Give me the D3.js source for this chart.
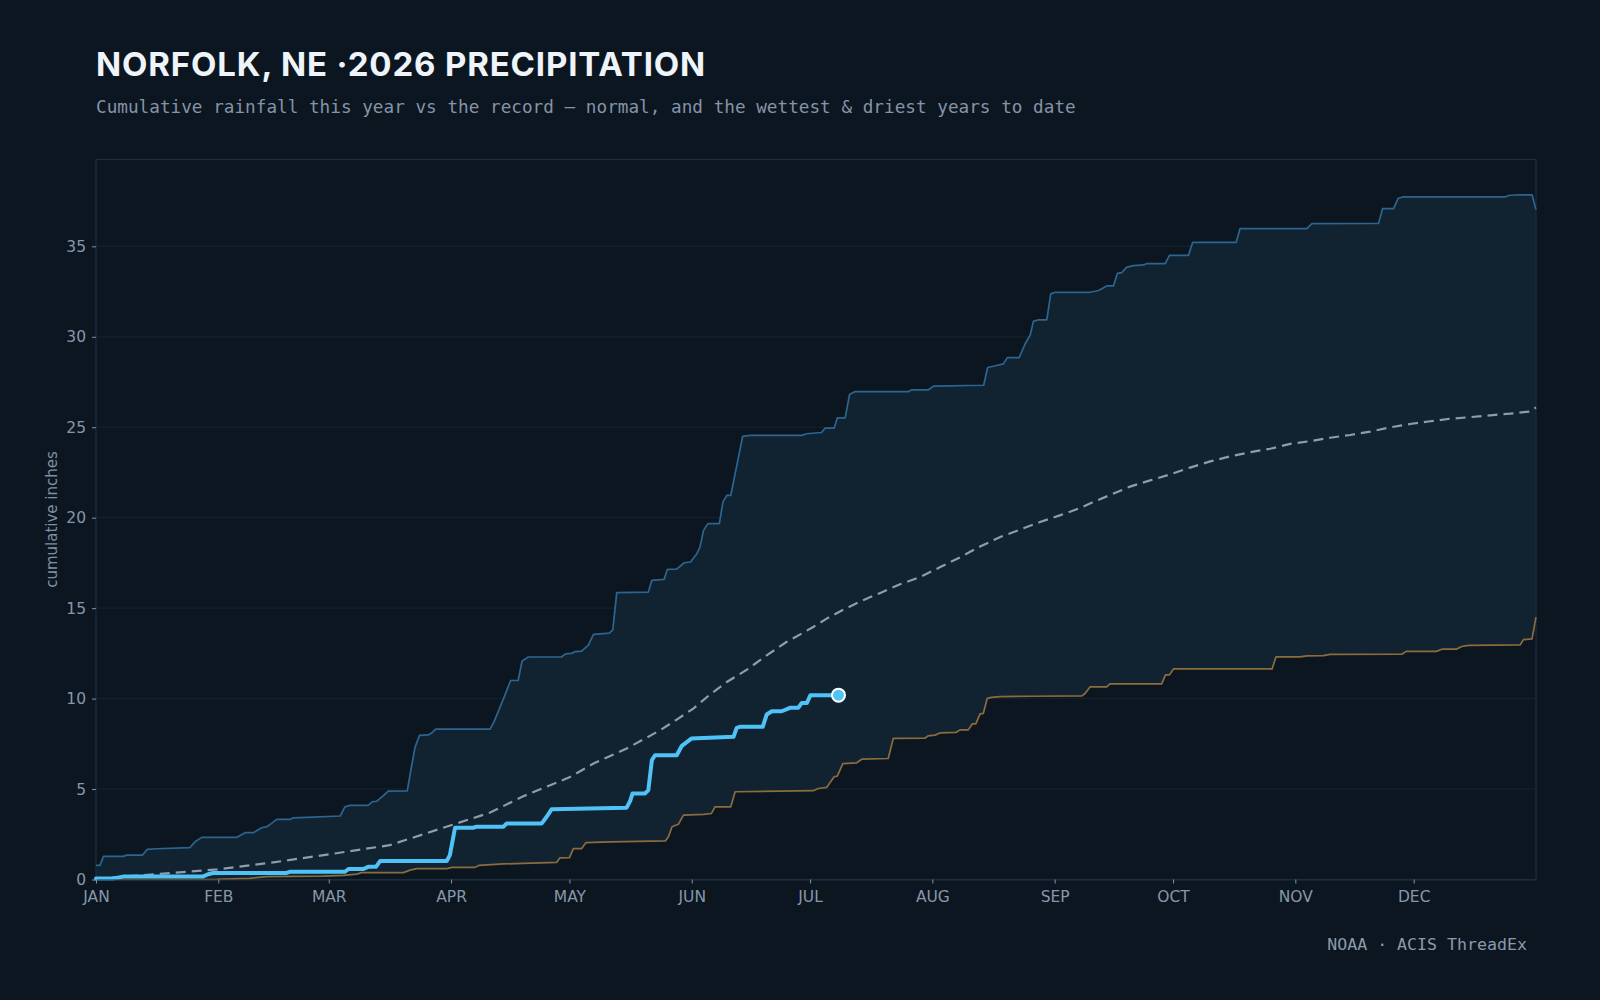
<!DOCTYPE html>
<html>
<head>
<meta charset="utf-8">
<script src="https://cdn.jsdelivr.net/npm/d3@7"></script>
<style>
  html, body { margin: 0; padding: 0; background: #0c1620; }
  svg { display: block; }
</style>
</head>
<body>
<svg id="chart" width="1600" height="1000"></svg>
<script>
// ---- DATA (day of year from Jan 1, cumulative inches) ----
const monthLabels = ["JAN","FEB","MAR","APR","MAY","JUN","JUL","AUG","SEP","OCT","NOV","DEC"];
const yTickValues = [0, 5, 10, 15, 20, 25, 30, 35];

const wettest = [[0,0.78],[1,0.78],[1.9,1.28],[6.9,1.28],[7.8,1.35],[11.8,1.35],[13,1.67],[15.4,1.70],[23.8,1.76],[25.1,2.09],[26.8,2.33],[35.7,2.33],[37.8,2.59],[39.9,2.59],[42,2.86],[43.3,2.92],[44.5,3.1],[45.8,3.32],[49.2,3.32],[50,3.41],[55.1,3.45],[61.9,3.51],[63.1,4.02],[64.4,4.1],[69,4.1],[70.1,4.3],[71.1,4.32],[72.7,4.61],[74.1,4.89],[78.9,4.9],[79.8,6.04],[80.9,7.33],[82,7.97],[84.2,7.99],[85.1,8.1],[86.1,8.31],[99.9,8.31],[100.9,8.73],[103.3,10.0],[105.1,11.0],[107,11.0],[108,12.08],[109.6,12.3],[118,12.3],[119,12.47],[120.5,12.5],[121.5,12.6],[123.1,12.62],[124.8,12.95],[126.1,13.55],[130.1,13.62],[131,13.8],[132,15.86],[140,15.89],[140.9,16.54],[144,16.59],[144.8,17.14],[147.2,17.16],[149.1,17.51],[150.7,17.55],[152.3,18.01],[153.1,18.38],[154,19.3],[155.1,19.67],[158,19.67],[158.9,20.86],[159.9,21.23],[160.9,21.23],[163.9,24.49],[165.8,24.55],[178.9,24.55],[180.1,24.64],[183.9,24.71],[184.8,24.95],[187.1,24.95],[187.9,25.52],[189.9,25.52],[191,26.81],[192.4,26.97],[206,26.97],[206.8,27.07],[211,27.07],[212.3,27.27],[225,27.32],[226,28.3],[228,28.4],[230,28.5],[231,28.85],[234,28.85],[235.5,29.6],[236.8,30.1],[237.6,30.85],[238.9,30.94],[241,30.94],[242,32.37],[243.1,32.46],[252,32.46],[254.1,32.56],[256.2,32.81],[257.9,32.81],[258.9,33.51],[260,33.55],[261.3,33.85],[263,33.93],[265.5,33.97],[266.3,34.04],[271,34.04],[272.1,34.5],[276.9,34.5],[278,35.22],[289,35.22],[290,35.98],[306.9,35.98],[308.2,36.25],[325.1,36.27],[326.1,37.08],[328.9,37.08],[330.1,37.66],[331.2,37.73],[357.2,37.73],[358,37.81],[360.5,37.85],[364,37.85],[365,37.03]];

const driest = [[0,0],[30.6,0.01],[39,0.06],[43.3,0.16],[57.6,0.19],[62.7,0.23],[66.1,0.3],[67.3,0.38],[77.9,0.38],[79.6,0.52],[81.3,0.6],[88.9,0.6],[90.2,0.67],[96.1,0.67],[97,0.78],[103.3,0.86],[108.3,0.89],[116.8,0.95],[117.6,1.2],[120,1.21],[121,1.71],[123.1,1.71],[124.2,2.04],[130.3,2.08],[144.3,2.13],[145.1,2.37],[146,2.92],[147.6,3.05],[148.9,3.56],[154,3.6],[156,3.65],[156.9,4.02],[160.9,4.02],[162,4.85],[181.8,4.91],[183.1,5.03],[185.2,5.09],[186.2,5.4],[187.1,5.68],[187.9,5.71],[189.3,6.41],[192.8,6.45],[194.1,6.65],[200.8,6.69],[202.1,7.8],[210.1,7.81],[210.9,7.94],[212.7,7.98],[214,8.11],[218,8.13],[219,8.27],[221.1,8.27],[222.1,8.6],[223,8.6],[224.1,9.16],[224.9,9.18],[225.9,10.01],[227,10.07],[229.2,10.11],[237.6,10.13],[249.9,10.15],[250.7,10.28],[252,10.65],[256.2,10.65],[257,10.81],[270.1,10.81],[271.1,11.31],[272.1,11.31],[273.1,11.64],[298.1,11.64],[299.1,12.31],[305.2,12.31],[306.9,12.36],[311.1,12.38],[312.8,12.44],[331,12.45],[332.1,12.61],[339.8,12.61],[341.1,12.73],[344.9,12.74],[346.2,12.88],[347.9,12.94],[361,12.97],[361.8,13.26],[364,13.3],[365,14.5]];

const normal = [[0,0.03],[15.4,0.3],[30.8,0.56],[45,0.95],[59,1.39],[74.5,1.9],[90,3.0],[99.9,3.7],[108.3,4.6],[120,5.65],[126.1,6.41],[134.5,7.24],[143,8.25],[147.2,8.84],[151.4,9.45],[155.6,10.22],[159.9,10.92],[165,11.6],[170,12.39],[175,13.13],[178.5,13.55],[181.8,13.96],[185.2,14.42],[189.4,14.91],[193.7,15.37],[198.8,15.84],[203.8,16.32],[208.9,16.72],[214,17.27],[219.1,17.82],[224.1,18.41],[229.2,18.93],[234.2,19.34],[239.3,19.76],[244.3,20.13],[249.4,20.53],[252.8,20.87],[257,21.25],[262.1,21.72],[267.2,22.06],[272.2,22.39],[277.3,22.77],[282.4,23.11],[287.5,23.39],[292.5,23.62],[297.6,23.81],[302.7,24.08],[307.7,24.23],[312.8,24.42],[317.9,24.57],[323,24.76],[328,24.99],[333.1,25.18],[338.2,25.33],[343.2,25.47],[348.3,25.56],[353.4,25.66],[358.4,25.75],[363.5,25.87],[365,26.1]];

const current = [[0,0.05],[4.4,0.06],[6.9,0.16],[27.2,0.17],[28.4,0.29],[29.7,0.36],[48.3,0.36],[49.2,0.43],[63.1,0.43],[64,0.58],[67.8,0.58],[69.1,0.71],[71,0.71],[72,1.02],[88.9,1.02],[89.7,1.35],[91,2.86],[95.6,2.86],[96.5,2.92],[103.3,2.92],[104.1,3.1],[113,3.1],[114.5,3.55],[115.5,3.89],[134.5,3.97],[135.4,4.35],[136,4.76],[139.2,4.76],[140,4.94],[140.9,6.6],[141.7,6.87],[147.2,6.87],[148.5,7.39],[150.9,7.79],[161.6,7.89],[162.4,8.38],[163.2,8.44],[169,8.44],[170,9.12],[171.3,9.3],[173.8,9.3],[175.9,9.49],[178,9.49],[178.9,9.76],[180.2,9.76],[181.1,10.19],[188.2,10.19]];

// ---- LAYOUT ----
const W = 1600, H = 1000;
const m = { left: 96, right: 1536, top: 159.5, bottom: 879.5 };
const DAY = 864e5;
const t0 = Date.UTC(2026, 0, 1);
const toDate = d => new Date(t0 + d * DAY);

const svg = d3.select("#chart");
svg.append("rect").attr("width", W).attr("height", H).attr("fill", "#0c1620");

const x = d3.scaleUtc().domain([new Date(t0), new Date(Date.UTC(2027, 0, 1))]).range([m.left, m.right]);
const y = d3.scaleLinear().domain([0, 39.8]).range([m.bottom, m.top]);

// grid
svg.append("g").selectAll("line").data(yTickValues.filter(v => v > 0)).join("line")
  .attr("x1", m.left).attr("x2", m.right)
  .attr("y1", d => y(d)).attr("y2", d => y(d))
  .attr("stroke", "#142430").attr("stroke-width", 1);

const line = d3.line().x(d => x(toDate(d[0]))).y(d => y(d[1]));

// band between driest and wettest
const band = wettest.concat(driest.slice().reverse());
svg.append("path").attr("d", line(band) + "Z").attr("fill", "#112230");

// frame
svg.append("rect").attr("x", m.left).attr("y", m.top)
  .attr("width", m.right - m.left).attr("height", m.bottom - m.top)
  .attr("fill", "none").attr("stroke", "#1a2f42").attr("stroke-width", 1.2);

// series
svg.append("path").attr("d", line(wettest)).attr("fill", "none")
  .attr("stroke", "#2c6590").attr("stroke-width", 1.7).attr("stroke-linejoin", "round");
svg.append("path").attr("d", line(driest)).attr("fill", "none")
  .attr("stroke", "#8c6c3d").attr("stroke-width", 1.7).attr("stroke-linejoin", "round");
svg.append("path").attr("d", line(normal)).attr("fill", "none")
  .attr("stroke", "#8e9cab").attr("stroke-width", 2.2).attr("stroke-dasharray", "10,6");
svg.append("path").attr("d", line(current)).attr("fill", "none")
  .attr("stroke", "#4fc3f7").attr("stroke-width", 4).attr("stroke-linejoin", "round").attr("stroke-linecap", "round");

const last = current[current.length - 1];
svg.append("circle").attr("cx", x(toDate(last[0]))).attr("cy", y(last[1])).attr("r", 6.5)
  .attr("fill", "#4fc3f7").attr("stroke", "#ffffff").attr("stroke-width", 2);

// axes
const monthTicks = d3.utcMonths(new Date(t0), new Date(Date.UTC(2027, 0, 1)));
const xAxis = d3.axisBottom(x).tickValues(monthTicks).tickSize(4).tickSizeOuter(0).tickPadding(7)
  .tickFormat((d, i) => monthLabels[i]);
const gx = svg.append("g").attr("transform", `translate(0,${m.bottom})`).call(xAxis);
gx.select(".domain").attr("stroke", "#1a2f42");
gx.selectAll(".tick line").attr("stroke", "#8193a5");
gx.selectAll("text").attr("fill", "#8797a9").attr("font-family", "DejaVu Sans").attr("font-size", 15.5);

const yAxis = d3.axisLeft(y).tickValues(yTickValues).tickSize(4).tickPadding(6);
const gy = svg.append("g").attr("transform", `translate(${m.left},0)`).call(yAxis);
gy.select(".domain").remove();
gy.selectAll(".tick line").attr("stroke", "#8193a5");
gy.selectAll("text").attr("fill", "#8797a9").attr("font-family", "DejaVu Sans").attr("font-size", 15.5);

svg.append("text").attr("transform", `translate(57,${(m.top + m.bottom) / 2}) rotate(-90)`)
  .attr("text-anchor", "middle").attr("fill", "#7f91a3")
  .attr("font-family", "DejaVu Sans").attr("font-size", 15).text("cumulative inches");

// titles
svg.append("text").attr("x", 96).attr("y", 76).attr("fill", "#eef4f9")
  .attr("font-family", "Inter").attr("font-weight", 700).attr("font-size", 33)
  .attr("letter-spacing", 0.85)
  .text("NORFOLK, NE ·2026 PRECIPITATION");
svg.append("text").attr("x", 96).attr("y", 112.5).attr("fill", "#8494a7")
  .attr("font-family", "DejaVu Sans Mono").attr("font-size", 17.7)
  .text("Cumulative rainfall this year vs the record — normal, and the wettest & driest years to date");
svg.append("text").attr("x", 1527).attr("y", 950).attr("text-anchor", "end").attr("fill", "#8a9aab")
  .attr("font-family", "DejaVu Sans Mono").attr("font-size", 16.6)
  .text("NOAA · ACIS ThreadEx");
</script>
</body>
</html>
